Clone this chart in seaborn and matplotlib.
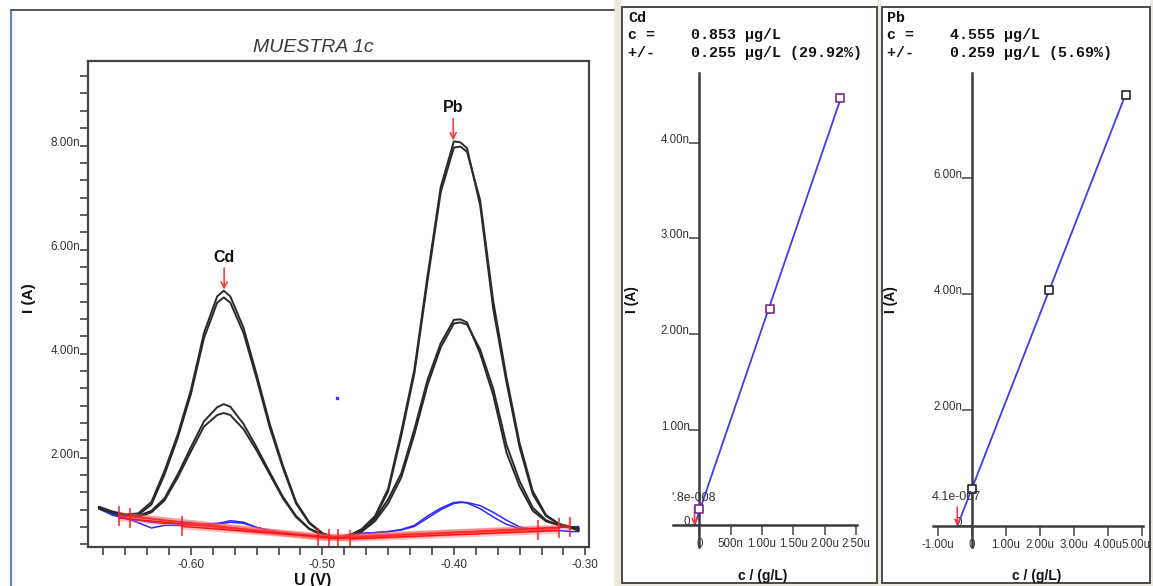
import numpy as np
import pandas as pd
import matplotlib
matplotlib.use("Agg")
import matplotlib.pyplot as plt
from matplotlib.patches import Rectangle
from matplotlib.lines import Line2D
from matplotlib.ticker import FixedLocator, FixedFormatter, MultipleLocator
import matplotlib.transforms as mtransforms
import seaborn as sns

sns.set_style("white")
plt.rcParams["font.family"] = ["Liberation Sans", "DejaVu Sans"]

W, H = 1153, 586

# ------------------------------------------------------------------ data
volt = [-0.670, -0.660, -0.650, -0.640, -0.630, -0.620, -0.610, -0.600, -0.590, -0.580,
        -0.575, -0.570, -0.560, -0.550, -0.540, -0.530, -0.520, -0.510, -0.500, -0.490,
        -0.480, -0.470, -0.460, -0.450, -0.440, -0.430, -0.420, -0.410, -0.400, -0.395,
        -0.390, -0.380, -0.370, -0.360, -0.350, -0.340, -0.330, -0.320, -0.310, -0.305]

# currents in nA
scan_add2_a = [1.06, 0.97, 0.91, 0.93, 1.15, 1.75, 2.45, 3.30, 4.40, 5.10,
               5.21, 5.10, 4.50, 3.60, 2.65, 1.85, 1.15, 0.76, 0.55, 0.47,
               0.50, 0.63, 0.88, 1.40, 2.50, 3.70, 5.50, 7.20, 8.08, 8.06,
               7.95, 6.85, 4.85, 3.45, 2.20, 1.30, 0.88, 0.72, 0.66, 0.64]
scan_add2_b = [1.04, 0.95, 0.89, 0.90, 1.10, 1.68, 2.38, 3.22, 4.30, 4.98,
               5.08, 4.98, 4.40, 3.52, 2.58, 1.80, 1.12, 0.74, 0.54, 0.47,
               0.49, 0.61, 0.85, 1.35, 2.42, 3.62, 5.40, 7.10, 7.96, 7.98,
               7.88, 6.95, 5.00, 3.55, 2.28, 1.36, 0.90, 0.73, 0.66, 0.62]
scan_add1_a = [1.04, 0.95, 0.90, 0.88, 0.98, 1.22, 1.68, 2.20, 2.70, 2.97,
               3.03, 2.98, 2.65, 2.20, 1.72, 1.25, 0.88, 0.64, 0.52, 0.47,
               0.50, 0.60, 0.82, 1.20, 1.70, 2.55, 3.50, 4.20, 4.65, 4.66,
               4.60, 4.00, 3.20, 2.10, 1.45, 0.98, 0.78, 0.70, 0.66, 0.65]
scan_add1_b = [1.02, 0.94, 0.88, 0.86, 0.95, 1.18, 1.62, 2.12, 2.60, 2.82,
               2.86, 2.82, 2.55, 2.14, 1.68, 1.22, 0.86, 0.63, 0.51, 0.46,
               0.48, 0.58, 0.78, 1.12, 1.62, 2.45, 3.40, 4.12, 4.58, 4.60,
               4.56, 4.08, 3.32, 2.25, 1.55, 1.04, 0.80, 0.70, 0.64, 0.60]
scan_sample_a = [1.06, 0.92, 0.85, 0.75, 0.65, 0.70, 0.70, 0.70, 0.72, 0.74,
                 0.76, 0.79, 0.76, 0.66, 0.60, 0.56, 0.52, 0.50, 0.48, 0.48,
                 0.52, 0.55, 0.56, 0.58, 0.62, 0.70, 0.88, 1.03, 1.14, 1.15,
                 1.13, 1.02, 0.86, 0.72, 0.64, 0.64, 0.65, 0.66, 0.67, 0.68]
scan_sample_b = [1.02, 0.90, 0.83, 0.80, 0.76, 0.74, 0.73, 0.72, 0.72, 0.73,
                 0.74, 0.76, 0.74, 0.66, 0.60, 0.56, 0.52, 0.50, 0.48, 0.47,
                 0.50, 0.54, 0.56, 0.58, 0.61, 0.68, 0.84, 1.00, 1.12, 1.14,
                 1.14, 1.08, 0.95, 0.80, 0.67, 0.62, 0.60, 0.60, 0.58, 0.58]

# baseline segments (V, nA)
base_u0 = [-0.655, -0.646, -0.655, -0.607, -0.503, -0.495, -0.488, -0.479]
base_i0 = [0.90, 0.87, 0.84, 0.68, 0.47, 0.45, 0.46, 0.44]
base_u1 = [-0.503, -0.495, -0.488, -0.479, -0.336, -0.320, -0.312, -0.320]
base_i1 = [0.47, 0.45, 0.46, 0.44, 0.62, 0.64, 0.67, 0.60]
# baseline limit marks
mark_u = [-0.655, -0.646, -0.607, -0.503, -0.495, -0.488, -0.479, -0.336, -0.320, -0.312]
mark_i = [0.88, 0.85, 0.68, 0.45, 0.44, 0.44, 0.42, 0.62, 0.64, 0.66]

peak_names = ["Cd", "Pb"]
peak_u = [-0.5747, -0.4005]
peak_i = [5.23, 8.10]

# calibration (standard additions), c in ug/L, I in nA
cd_added = [0.0, 1.125, 2.25]
cd_current = [0.167, 2.26, 4.47]
pb_added = [0.0, 2.26, 4.52]
pb_current = [0.64, 4.07, 7.44]

left_yticks = [2, 4, 6, 8]
left_ylabels = ["2.00n", "4.00n", "6.00n", "8.00n"]
left_xticks = [-0.60, -0.50, -0.40, -0.30]
left_xlabels = ["-0.60", "-0.50", "-0.40", "-0.30"]
cd_yticks = [0, 1, 2, 3, 4]
cd_ylabels = ["0", "1.00n", "2.00n", "3.00n", "4.00n"]
cd_xticks = [0, 0.5, 1.0, 1.5, 2.0, 2.5]
cd_xlabels = ["0", "500n", "1.00u", "1.50u", "2.00u", "2.50u"]
pb_yticks = [0, 2, 4, 6]
pb_ylabels = ["0", "2.00n", "4.00n", "6.00n"]
pb_xticks = [-1, 0, 1, 2, 3, 4, 5]
pb_xlabels = ["-1.00u", "0", "1.00u", "2.00u", "3.00u", "4.00u", "5.00u"]

cd_header = ["Cd", "c =    0.853 \u00b5g/L", "+/-    0.255 \u00b5g/L (29.92%)"]
pb_header = ["Pb", "c =    4.555 \u00b5g/L", "+/-    0.259 \u00b5g/L (5.69%)"]
cd_root_label = "'.8e-008"
pb_root_label = "4.1e-007"

# ------------------------------------------------------------------ figure
fig = plt.figure(figsize=(W / 100, H / 100), dpi=100)
fig.patch.set_facecolor("white")

BEIGE = "#ECE9DC"
TXT = "#333333"


def fig_rect(x0, y0, x1, y1, **kw):
    r = Rectangle((x0 / W, 1 - y1 / H), (x1 - x0) / W, (y1 - y0) / H,
                  transform=fig.transFigure, zorder=-10, **kw)
    fig.add_artist(r)


def fig_line(xs, ys, **kw):
    fig.add_artist(Line2D([x / W for x in xs], [1 - y / H for y in ys],
                          transform=fig.transFigure, **kw))


def ftext(x, y, s, **kw):
    fig.text(x / W, 1 - y / H, s, **kw)


def axes_px(l, t, r, b):
    return fig.add_axes([l / W, 1 - b / H, (r - l) / W, (b - t) / H])


# window background strips
fig_rect(614, 0, 621, H, facecolor=BEIGE, edgecolor="none")
fig_rect(877, 0, 881, H, facecolor=BEIGE, edgecolor="none")
fig_rect(1150, 0, W, H, facecolor=BEIGE, edgecolor="none")
fig_rect(621, 583, W, H, facecolor=BEIGE, edgecolor="none")
# panel borders
fig_line([11, 11], [9.5, H], color="#6a86b4", lw=1.6)
fig_line([11, 614], [9.5, 9.5], color="#555555", lw=1.4)
fig_rect(622, 7, 876.5, 583, facecolor="white", edgecolor="#4a4a4a", lw=1.4)
fig_rect(882, 7, 1150, 583, facecolor="white", edgecolor="#4a4a4a", lw=1.4)

# ------------------------------------------------------------------ voltammograms
ax = axes_px(88.3, 60.7, 589.3, 546.7)
rows = []
for name, grp, vals in [("add2_a", "std", scan_add2_a), ("add2_b", "std", scan_add2_b),
                        ("add1_a", "std", scan_add1_a), ("add1_b", "std", scan_add1_b),
                        ("sample_a", "sample", scan_sample_a), ("sample_b", "sample", scan_sample_b)]:
    for u, i in zip(volt, vals):
        rows.append({"U": u, "I": i, "scan": name, "group": grp})
df = pd.DataFrame(rows)

sns.lineplot(data=df[df.group == "sample"], x="U", y="I", units="scan", estimator=None,
             sort=False, color="#2a2aff", lw=1.1, ax=ax, legend=False)
sns.lineplot(data=df[df.group == "std"], x="U", y="I", units="scan", estimator=None,
             sort=False, color="#2a2a2a", lw=1.4, ax=ax, legend=False)

for u0, i0, u1, i1 in zip(base_u0, base_i0, base_u1, base_i1):
    ax.plot([u0, u1], [i0, i1], color="#ff5a5a", lw=4.5, alpha=0.35, solid_capstyle="butt")
    ax.plot([u0, u1], [i0, i1], color="#ff1010", lw=1.0)
ax.plot(mark_u, mark_i, ls="none", marker="|", ms=15, mew=1.1, color="#ff2020")
ax.plot([-0.489], [3.15], ls="none", marker="s", ms=1.5, color="#3030ff")

for nm, u, i in zip(peak_names, peak_u, peak_i):
    ax.annotate("", xy=(u, i), xytext=(u, i + 0.42),
                arrowprops=dict(arrowstyle="->", color="#ff3030", lw=1.1,
                                shrinkA=0, shrinkB=0, mutation_scale=11))
    ax.text(u, i + 0.48, nm, ha="center", va="bottom", fontsize=11.5,
            fontweight="bold", color="#111111")

ax.set_xlim(-0.678, -0.297)
ax.set_ylim(0.29, 9.63)
ax.xaxis.set_major_locator(FixedLocator(left_xticks))
ax.xaxis.set_major_formatter(FixedFormatter(left_xlabels))
ax.yaxis.set_major_locator(FixedLocator(left_yticks))
ax.yaxis.set_major_formatter(FixedFormatter(left_ylabels))
ax.xaxis.set_minor_locator(MultipleLocator(0.1 / 6))
ax.yaxis.set_minor_locator(MultipleLocator(1 / 3))
ax.tick_params(which="both", direction="out", length=6, width=1.2, color="#444444",
               labelsize=8.5, labelcolor=TXT, bottom=True, left=True)
ax.tick_params(axis="y", which="major", pad=0)
ax.tick_params(axis="x", which="major", pad=3)
for t in ax.get_yticklabels():
    t.set_va("baseline")
for s in ax.spines.values():
    s.set_color("#444444")
    s.set_linewidth(1.6)
ax.set_xlabel("")
ax.set_ylabel("")
ax.set_facecolor("white")

ftext(313, 47, "MUESTRA 1c", ha="center", va="center", fontsize=14,
      style="italic", color="#3a3a3a")
ftext(29, 298, "I (A)", ha="center", va="center", rotation=90, fontsize=11,
      fontweight="bold", color="#111111")
ftext(313, 572.5, "U (V)", ha="center", va="top", fontsize=11.5,
      fontweight="bold", color="#111111")


# ------------------------------------------------------------------ calibration panels
def calib(box, xlim, ylim, added, current, edge, yt, yl, xt, xl, header, hx,
          root_label, root_xy, ylab_x, xlab_x, arrow_len, last_shift=0):
    a = axes_px(*box)
    a.set_facecolor("none")
    slope, icpt = np.polyfit(added, current, 1)
    root = -icpt / slope
    xs = [root, max(added)]
    sns.lineplot(x=xs, y=[slope * v + icpt for v in xs], color="#3d3df0", lw=1.3, ax=a)
    sns.scatterplot(x=added, y=current, marker="s", s=26, facecolor="white",
                    edgecolor=edge, linewidth=1.2, ax=a, zorder=5)
    a.annotate("", xy=(root, 0), xytext=(root, arrow_len),
               arrowprops=dict(arrowstyle="->", color="#ff3030", lw=1.1,
                               shrinkA=0, shrinkB=0, mutation_scale=9))
    a.set_xlim(*xlim)
    a.set_ylim(*ylim)
    for side in ["top", "right"]:
        a.spines[side].set_visible(False)
    a.spines["left"].set_position(("data", 0))
    a.spines["bottom"].set_position(("data", 0))
    for side in ["left", "bottom"]:
        a.spines[side].set_color("#3c3c3c")
        a.spines[side].set_linewidth(1.8)
    a.xaxis.set_major_locator(FixedLocator(xt))
    a.xaxis.set_major_formatter(FixedFormatter(xl))
    a.yaxis.set_major_locator(FixedLocator(yt))
    a.yaxis.set_major_formatter(FixedFormatter(yl))
    a.tick_params(which="both", direction="out", length=7, width=1.1, color="#444444",
                  labelsize=8.3, labelcolor=TXT, bottom=True, left=True)
    a.tick_params(axis="y", pad=0)
    a.tick_params(axis="x", pad=2)
    for t in a.get_yticklabels():
        t.set_va("baseline")
    if last_shift:
        lab = a.get_xticklabels()[-1]
        lab.set_transform(lab.get_transform() +
                          mtransforms.ScaledTranslation(last_shift / 100, 0,
                                                        fig.dpi_scale_trans))
    a.set_xlabel("")
    a.set_ylabel("")
    for k, line in enumerate(header):
        ftext(hx, 18 + 17.5 * k, line, ha="left", va="center", fontsize=10.8,
              fontweight="bold", family=["Liberation Mono", "DejaVu Sans Mono"],
              color="#111111")
    ftext(root_xy[0], root_xy[1], root_label, ha="left", va="center",
          fontsize=9, color=TXT)
    ftext(ylab_x, 300, "I (A)", ha="center", va="center", rotation=90, fontsize=10,
          fontweight="bold", color="#111111")
    ftext(xlab_x, 576, "c / (g/L)", ha="center", va="center", fontsize=10,
          fontweight="bold", color="#111111")
    return a


calib((673.3, 72.7, 856.5, 546.7), (-0.416, 2.507), (-0.224, 4.73),
      cd_added, cd_current, "#7a2a8c", cd_yticks, cd_ylabels, cd_xticks, cd_xlabels,
      cd_header, 628, cd_root_label, (671.5, 498), 632, 763, 0.19)
calib((933.3, 72.7, 1142.7, 546.7), (-1.138, 5.02), (-0.357, 7.82),
      pb_added, pb_current, "#222222", pb_yticks, pb_ylabels, pb_xticks, pb_xlabels,
      pb_header, 887, pb_root_label, (931.5, 497), 891, 1037, 0.33, last_shift=-6)

fig.savefig("out.png", dpi=100, facecolor=fig.get_facecolor())
